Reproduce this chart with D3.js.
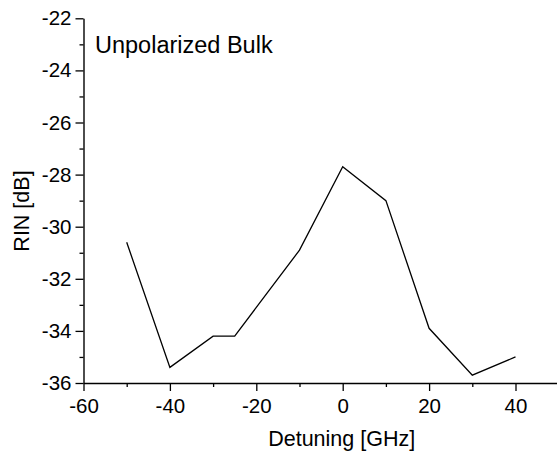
<!DOCTYPE html>
<html>
<head>
<meta charset="utf-8">
<script src="https://cdn.jsdelivr.net/npm/d3@7"></script>
<style>
  body { margin: 0; background: #fff; }
  svg { display: block; }
  text { font-family: Arial, 'Liberation Sans', sans-serif; fill: #000; }
</style>
</head>
<body>
<svg id="chart" width="557" height="456"></svg>
<script>
// detuning (GHz) and measured RIN (dB)
const detuning = [-50, -40, -30, -25, -20, -10, 0, 10, 20, 30, 40];
const rin = [-30.6, -35.4, -34.2, -34.2, -33.1, -30.9, -27.7, -29.0, -33.9, -35.7, -35.0];

const xMajor = [-60, -40, -20, 0, 20, 40];
const xMinor = [-50, -30, -10, 10, 30, 50];
const yMajor = [-36, -34, -32, -30, -28, -26, -24, -22];
const yMinor = [-35, -33, -31, -29, -27, -25, -23];

const LEFT = 83.5, BOTTOM = 383, TOP = 18.3;
const PX_PER_GHZ = 4.32;

const svg = d3.select('#chart');

// axis runs on past the right edge of the picture, as in the original crop
const x = d3.scaleLinear().domain([-60, 60]).range([LEFT, LEFT + 120 * PX_PER_GHZ]);
const y = d3.scaleLinear().domain([-36, -22]).range([BOTTOM, TOP]);

/* axes: major ticks with labels, minor ticks without, all pointing outward */
function styleAxis(g) {
    g.select('.domain').attr('stroke', '#000').attr('stroke-width', 1.4);
    g.selectAll('.tick line').attr('stroke', '#000').attr('stroke-width', 1.3);
    g.selectAll('.tick text').attr('font-size', '20.5px').attr('fill', '#000');
}

const xAxis = svg.append('g')
    .attr('transform', `translate(0,${BOTTOM})`)
    .call(d3.axisBottom(x).tickValues(xMajor).tickSize(8).tickSizeOuter(0)
        .tickPadding(7).tickFormat(d => String(d)))
    .call(styleAxis);
xAxis.selectAll('.tick text').attr('dy', '0.71em');

svg.append('g')
    .attr('transform', `translate(0,${BOTTOM})`)
    .call(d3.axisBottom(x).tickValues(xMinor).tickSize(4).tickSizeOuter(0).tickFormat(''))
    .call(styleAxis)
    .select('.domain').remove();

svg.append('g')
    .attr('transform', `translate(${LEFT},0)`)
    .call(d3.axisLeft(y).tickValues(yMajor).tickSize(8).tickSizeOuter(0)
        .tickPadding(4).tickFormat(d => String(d)))
    .call(styleAxis);

svg.append('g')
    .attr('transform', `translate(${LEFT},0)`)
    .call(d3.axisLeft(y).tickValues(yMinor).tickSize(4).tickSizeOuter(0).tickFormat(''))
    .call(styleAxis)
    .select('.domain').remove();

/* data line */
const line = d3.line().x((d, i) => x(detuning[i])).y(d => y(d));
svg.append('path')
    .datum(rin)
    .attr('fill', 'none')
    .attr('stroke', '#000')
    .attr('stroke-width', 1.3)
    .attr('d', line);

/* titles */
svg.append('text')
    .attr('x', x(0) - 1)
    .attr('y', 446)
    .attr('text-anchor', 'middle')
    .attr('font-size', '21.5px')
    .text('Detuning [GHz]');

svg.append('text')
    .attr('transform', 'translate(29,211) rotate(-90)')
    .attr('text-anchor', 'middle')
    .attr('font-size', '21.5px')
    .text('RIN [dB]');

svg.append('text')
    .attr('x', 95)
    .attr('y', 53)
    .attr('font-size', '23.5px')
    .text('Unpolarized Bulk');
</script>
</body>
</html>
